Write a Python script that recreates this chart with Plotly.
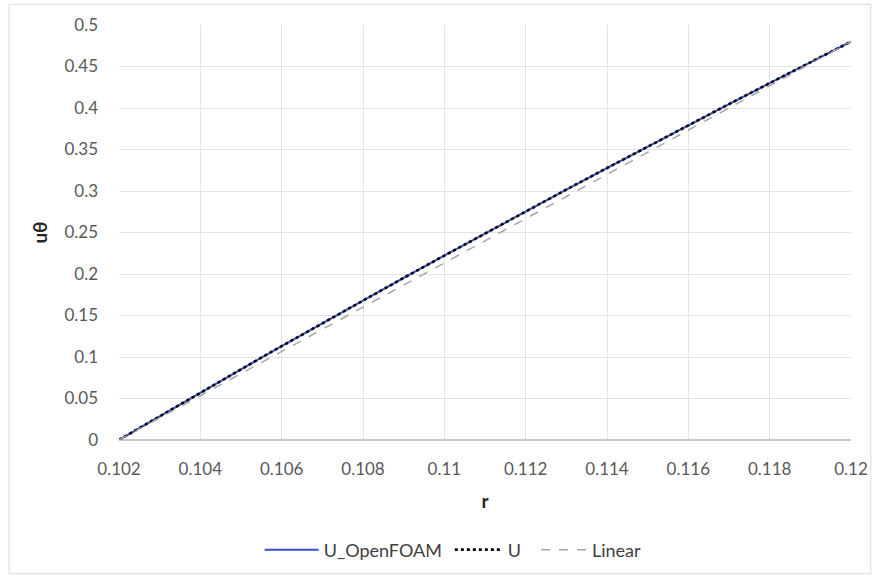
import plotly.graph_objects as go

# Radial positions across the gap (m)
r_vals = [0.102, 0.103, 0.104, 0.105, 0.106, 0.107, 0.108, 0.109, 0.110, 0.111,
          0.112, 0.113, 0.114, 0.115, 0.116, 0.117, 0.118, 0.119, 0.120]

# Tangential velocity from the OpenFOAM run
u_openfoam = [0.0, 0.0287, 0.0571, 0.0852, 0.1131, 0.1408, 0.1682, 0.1953, 0.2222, 0.2489,
              0.2754, 0.3017, 0.3277, 0.3536, 0.3792, 0.4047, 0.4300, 0.4551, 0.4800]

# Analytical profile
u_analytic = [0.0, 0.0287, 0.0571, 0.0852, 0.1131, 0.1408, 0.1682, 0.1953, 0.2222, 0.2489,
              0.2754, 0.3017, 0.3277, 0.3536, 0.3792, 0.4047, 0.4300, 0.4551, 0.4800]

# Straight-line reference between the walls
r_linear = [0.102, 0.120]
u_linear = [0.0, 0.48]

x_ticks = [0.102, 0.104, 0.106, 0.108, 0.110, 0.112, 0.114, 0.116, 0.118, 0.120]
x_tick_text = ["0.102", "0.104", "0.106", "0.108", "0.11", "0.112", "0.114", "0.116", "0.118", "0.12"]
y_ticks = [0, 0.05, 0.1, 0.15, 0.2, 0.25, 0.3, 0.35, 0.4, 0.45, 0.5]
y_tick_text = ["0", "0.05", "0.1", "0.15", "0.2", "0.25", "0.3", "0.35", "0.4", "0.45", "0.5"]

FONT = "Lato, 'Open Sans', sans-serif"
W, H = 880, 580
ML, MR, MT, MB = 119, 22, 25, 136
pw, ph = W - ML - MR, H - MT - MB

fig = go.Figure()
fig.add_trace(go.Scatter(x=r_vals, y=u_openfoam, mode="lines", name="U_OpenFOAM",
                         legend="legend",
                         line=dict(color="#3a4fc4", width=2)))
fig.add_trace(go.Scatter(x=r_vals, y=u_analytic, mode="lines", name="U",
                         legend="legend2",
                         line=dict(color="#000000", width=2.6, dash="dot")))
fig.add_trace(go.Scatter(x=r_linear, y=u_linear, mode="lines", name="Linear",
                         legend="legend3",
                         line=dict(color="#a6a6a6", width=1.5, dash="dash")))

# Light frame around the whole chart area
fig.add_shape(type="rect", xref="paper", yref="paper",
              x0=(8 - ML) / pw, x1=(878 - ML) / pw,
              y0=(H - MB - 579) / ph, y1=(H - MB - 4) / ph,
              line=dict(color="#d9d9d9", width=1), fillcolor="rgba(0,0,0,0)", layer="below")


def legend_box(left_px, item_w):
    return dict(orientation="h", x=(left_px - ML) / pw, xanchor="left",
                y=-(555 - (H - MB)) / ph, yanchor="middle",
                font=dict(family=FONT, size=18, color="#404040"), itemwidth=item_w,
                bgcolor="rgba(0,0,0,0)")


fig.update_layout(
    width=W, height=H,
    margin=dict(l=ML, r=MR, t=MT, b=MB),
    paper_bgcolor="white", plot_bgcolor="white",
    font=dict(family=FONT, size=17, color="#595959"),
    showlegend=True,
    legend=legend_box(261, 54),
    legend2=legend_box(453, 48),
    legend3=legend_box(540, 46),
)
fig.update_xaxes(range=[0.102, 0.120], tickvals=x_ticks, ticktext=x_tick_text,
                 showgrid=True, gridcolor="#e3e3e3", gridwidth=1,
                 showline=False, zeroline=False, ticks="", ticklabelstandoff=17,
                 title=dict(text="<b>r</b>", font=dict(family=FONT, size=19, color="#262626"),
                            standoff=16))
fig.update_yaxes(range=[0, 0.5], tickvals=y_ticks, ticktext=y_tick_text,
                 showgrid=True, gridcolor="#e3e3e3", gridwidth=1,
                 showline=False, zeroline=True, zerolinecolor="#c8c8c8", zerolinewidth=1.5,
                 ticks="", ticklabelstandoff=20,
                 title=dict(text="<b>uθ</b>", font=dict(family=FONT, size=19, color="#262626"),
                            standoff=11))

fig.write_html("out.html")
